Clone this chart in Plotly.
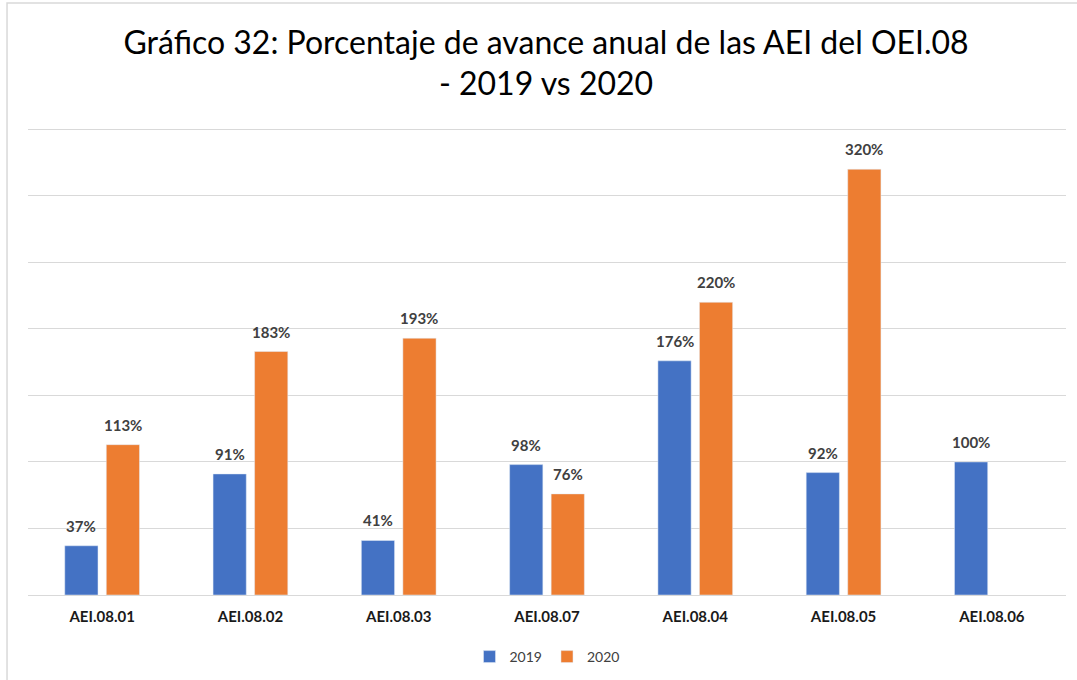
import plotly.graph_objects as go

categories = ["AEI.08.01", "AEI.08.02", "AEI.08.03", "AEI.08.07", "AEI.08.04", "AEI.08.05", "AEI.08.06"]
values_2019 = [37, 91, 41, 98, 176, 92, 100]
values_2020 = [113, 183, 193, 76, 220, 320, None]

BLUE = "#4472C4"
ORANGE = "#ED7D31"
BARGAP = 0.44
GROUPGAP = 0.2

fig = go.Figure()
fig.add_trace(go.Bar(name="2019", x=categories, y=values_2019, marker_color=BLUE))
fig.add_trace(go.Bar(name="2020", x=categories, y=values_2020, marker_color=ORANGE))

# data labels placed above each bar
plot_w = 1077 - 28 - 11
cat_px = plot_w / len(categories)
slot_px = cat_px * (1 - BARGAP) / 2
annotations = []
for series, sign in ((values_2019, -1), (values_2020, 1)):
    for c, v in zip(categories, series):
        if v is None:
            continue
        annotations.append(dict(
            x=c, y=v, xref="x", yref="y", text=f"{v}%", showarrow=False,
            xanchor="center", yanchor="middle", xshift=sign * slot_px / 2, yshift=20,
            font=dict(family="Lato", size=15, color="#404040", weight="bold"),
        ))

fig.update_layout(
    width=1077, height=680,
    margin=dict(l=28, r=11, t=128, b=85, autoexpand=False),
    paper_bgcolor="white", plot_bgcolor="white",
    barmode="group", bargap=BARGAP, bargroupgap=GROUPGAP,
    title=dict(
        text="Gráfico 32: Porcentaje de avance anual de las AEI del OEI.08<br>- 2019 vs 2020",
        x=0.507, xanchor="center", y=0.921, yanchor="middle",
        font=dict(family="Lato", size=32, color="#000000"),
    ),
    xaxis=dict(
        showgrid=False, showline=True, linecolor="#d9d9d9", linewidth=1,
        ticks="", ticklabelstandoff=8,
        tickfont=dict(family="Lato", size=15, color="#1a1a1a", weight="bold"),
    ),
    yaxis=dict(
        range=[0, 351], tickvals=[50, 100, 150, 200, 250, 300, 350],
        showgrid=True, gridcolor="#d9d9d9", gridwidth=1,
        showticklabels=False, zeroline=False, ticks="",
    ),
    legend=dict(
        orientation="h", x=0.5, xanchor="center",
        yref="container", y=1 - 657 / 680, yanchor="middle",
        font=dict(family="Lato", size=14, color="#404040"),
        itemwidth=30, tracegroupgap=0,
    ),
    annotations=annotations,
    shapes=[dict(
        type="rect", xref="paper", yref="paper",
        x0=-0.0202, x1=1.05, y0=-0.3, y1=1.2677,
        line=dict(color="#d9d9d9", width=1.5), fillcolor="rgba(0,0,0,0)", layer="below",
    )],
)

fig.write_html(
    "out.html",
    config={"displayModeBar": False},
    post_script="document.body.style.margin='0';document.body.style.overflow='hidden';",
)
